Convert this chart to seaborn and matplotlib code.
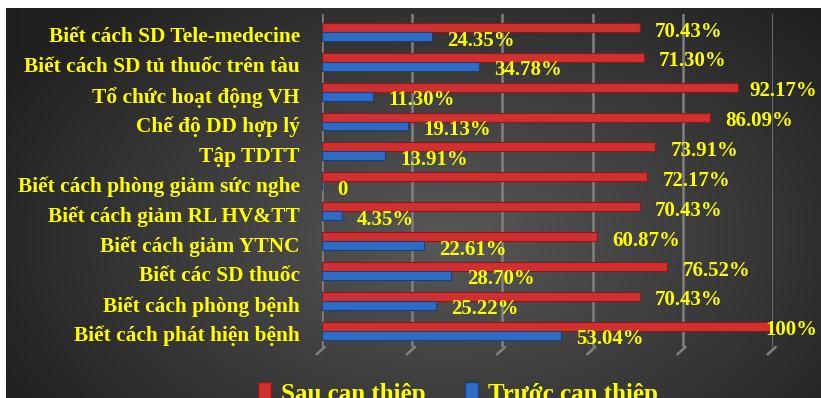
import numpy as np
import pandas as pd
import matplotlib
matplotlib.use("Agg")
import matplotlib.pyplot as plt
import seaborn as sns
from matplotlib.patches import Patch
from matplotlib.lines import Line2D
from matplotlib.colors import LinearSegmentedColormap

categories = [
    "Biết cách SD Tele-medecine",
    "Biết cách SD tủ thuốc trên tàu",
    "Tổ chức hoạt động VH",
    "Chế độ DD hợp lý",
    "Tập TDTT",
    "Biết cách phòng giảm sức nghe",
    "Biết cách giảm RL HV&TT",
    "Biết cách giảm YTNC",
    "Biết các SD thuốc",
    "Biết cách phòng bệnh",
    "Biết cách phát hiện bệnh",
]
sau = [70.43, 71.30, 92.17, 86.09, 73.91, 72.17, 70.43, 60.87, 76.52, 70.43, 100]
truoc = [24.35, 34.78, 11.30, 19.13, 13.91, 0, 4.35, 22.61, 28.70, 25.22, 53.04]
series = ["Sau can thiệp", "Trước can thiệp"]
colors = ["#D0302F", "#2E6CC6"]
edges = ["#8A1A1A", "#1B3F7A"]

def fmt(v):
    if v == 0:
        return "0"
    if v == 100:
        return "100%"
    return f"{v:.2f}%"

df = pd.DataFrame({
    "cat": categories * 2,
    "value": sau + truoc,
    "group": [series[0]] * len(categories) + [series[1]] * len(categories),
})

sns.set_theme(style="white")
plt.rcParams["font.family"] = ["Liberation Serif", "DejaVu Serif"]
plt.rcParams["font.weight"] = "bold"

W, H = 821, 398
fig = plt.figure(figsize=(W / 100, H / 100), dpi=100)
fig.patch.set_facecolor("white")

# background gradient panel
bg = fig.add_axes([6 / W, 0, (W - 6) / W, (H - 8) / H], zorder=-5)
yy, xx = np.mgrid[0:390, 0:815]
d = np.sqrt(((xx - 440) / 520.0) ** 2 + ((yy - 230) / 330.0) ** 2)
d = np.clip(d, 0, 1)
cmap = LinearSegmentedColormap.from_list("bg", ["#585858", "#3c3c3c", "#1f1f1f"])
bg.imshow(d, cmap=cmap, aspect="auto", vmin=0, vmax=1, interpolation="bilinear")
bg.set_axis_off()

ax = fig.add_axes([322 / W, 51 / H, 451 / W, 333 / H])
ax.set_facecolor("none")
sns.barplot(data=df, y="cat", x="value", hue="group", hue_order=series,
            order=categories, orient="h", palette=colors, width=0.6,
            ax=ax, legend=False, saturation=1)

for cont, ec in zip(ax.containers, edges):
    for p in cont:
        p.set_edgecolor(ec)
        p.set_linewidth(0.8)

ax.set_xlim(0, 100)
ax.set_ylim(10.55, -0.6)
ax.set_xticks([0, 20, 40, 60, 80, 100])
ax.set_xticklabels([])
ax.set_xlabel("")
ax.set_ylabel("")
ax.grid(axis="x", color="#808080", linewidth=1.8, zorder=0)
ax.set_axisbelow(True)
for s in ax.spines.values():
    s.set_visible(False)
ax.tick_params(axis="both", length=0)
ax.set_yticklabels([""] * len(categories))

# category labels (right-aligned, slightly below the row centre)
for i, c in enumerate(categories):
    ax.annotate(c, xy=(0, i), xycoords=("axes fraction", "data"),
                xytext=(-16, -4), textcoords="offset points", ha="right", va="center",
                color="#FFFF00", fontsize=15.4, fontweight="bold", annotation_clip=False)

# slanted gridline feet (3D floor)
for v in [0, 20, 40, 60, 80, 100]:
    ax.add_line(Line2D([v + 0.6, v - 1.2], [0, -0.022], transform=ax.get_xaxis_transform(),
                       color="#808080", linewidth=1.8, clip_on=False, zorder=0))

vals = [sau, truoc]
value_texts = []
for cont, vlist in zip(ax.containers, vals):
    for p, v in zip(cont, vlist):
        yc = p.get_y() + p.get_height() / 2
        t = ax.annotate(fmt(v), xy=(v, yc), xytext=(11, -3), textcoords="offset points",
                        ha="left", va="center", color="#FFFF00", fontsize=15,
                        fontweight="bold", annotation_clip=False)
        value_texts.append(t)

# keep value labels inside the chart area (like the original)
fig.canvas.draw()
r = fig.canvas.get_renderer()
for t in value_texts:
    bb = t.get_window_extent(r)
    if bb.x1 > 817:
        shift_pt = (bb.x1 - 817) * 72.0 / 100.0
        x0, y0 = t.xyann
        t.xyann = (x0 - shift_pt, y0)

handles = [Patch(facecolor=c, edgecolor=e) for c, e in zip(colors, edges)]
fig.legend(handles, series, loc="upper center", bbox_to_anchor=(458 / W, 39 / H),
           ncol=2, frameon=False, labelcolor="#FFFF00",
           handlelength=0.5, handleheight=0.9, handletextpad=0.4, columnspacing=1.6,
           prop={"weight": "bold", "size": 18})

fig.savefig("out.png", dpi=100, facecolor=fig.get_facecolor())
